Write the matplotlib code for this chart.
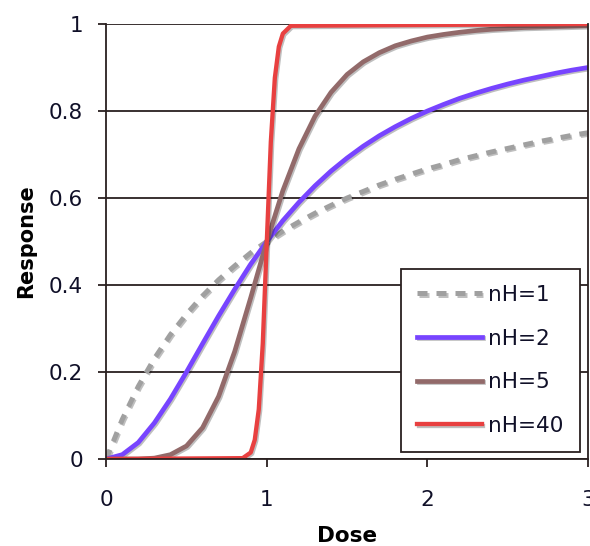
import matplotlib.pyplot as plt
import matplotlib.patheffects as pe

# dose values (0.1 steps) for the three smoother curves
dose = [0.0, 0.1, 0.2, 0.3, 0.4, 0.5, 0.6, 0.7, 0.8, 0.9, 1.0,
        1.1, 1.2, 1.3, 1.4, 1.5, 1.6, 1.7, 1.8, 1.9, 2.0,
        2.1, 2.2, 2.3, 2.4, 2.5, 2.6, 2.7, 2.8, 2.9, 3.0]

resp_n1 = [0.000, 0.091, 0.167, 0.231, 0.286, 0.333, 0.375, 0.412, 0.444, 0.474, 0.500,
           0.524, 0.545, 0.565, 0.583, 0.600, 0.615, 0.630, 0.643, 0.655, 0.667,
           0.677, 0.688, 0.697, 0.706, 0.714, 0.722, 0.730, 0.737, 0.744, 0.750]
resp_n2 = [0.000, 0.010, 0.038, 0.083, 0.138, 0.200, 0.265, 0.329, 0.390, 0.448, 0.500,
           0.548, 0.590, 0.628, 0.662, 0.692, 0.719, 0.743, 0.764, 0.783, 0.800,
           0.815, 0.829, 0.841, 0.852, 0.862, 0.871, 0.879, 0.887, 0.894, 0.900]
resp_n5 = [0.000, 0.000, 0.000, 0.002, 0.010, 0.030, 0.072, 0.144, 0.247, 0.371, 0.500,
           0.617, 0.713, 0.788, 0.843, 0.884, 0.913, 0.934, 0.950, 0.961, 0.970,
           0.976, 0.981, 0.985, 0.988, 0.990, 0.992, 0.993, 0.994, 0.995, 0.996]

# the steep curve needs finer steps around dose = 1
dose_40 = [0.0, 0.85, 0.9, 0.925, 0.95, 0.975, 1.0, 1.025, 1.05, 1.075, 1.1, 1.15, 3.0]
resp_n40 = [0.000, 0.002, 0.015, 0.044, 0.114, 0.266, 0.500, 0.729, 0.876, 0.948, 0.978, 0.996, 1.000]

labels = ['nH=1', 'nH=2', 'nH=5', 'nH=40']
colors = ['#a0a0a0', '#7744ff', '#926a6a', '#e84040']

fig, ax = plt.subplots(figsize=(5.9, 5.46), dpi=100)
fig.subplots_adjust(left=0.18, right=0.9966, bottom=0.1593, top=0.956)

shadow = [pe.SimpleLineShadow(offset=(1, -1), alpha=0.25), pe.Normal()]

ax.plot(dose, resp_n1, color=colors[0], lw=3.6, dashes=(2.0, 1.8),
        label=labels[0], path_effects=shadow)
ax.plot(dose, resp_n2, color=colors[1], lw=3.4, label=labels[1], path_effects=shadow)
ax.plot(dose, resp_n5, color=colors[2], lw=3.4, label=labels[2], path_effects=shadow)
ax.plot(dose_40, resp_n40, color=colors[3], lw=3.1, label=labels[3], path_effects=shadow)

ax.set_xlim(0, 3)
ax.set_ylim(0, 1)
ax.set_xticks([0, 1, 2, 3])
ax.set_yticks([0, 0.2, 0.4, 0.6, 0.8, 1.0])
ax.set_yticklabels(['0', '0.2', '0.4', '0.6', '0.8', '1'])

gridc = '#2a2020'
ax.yaxis.grid(True, color=gridc, lw=1.3)
ax.set_axisbelow(True)
for s in ['left', 'right', 'bottom']:
    ax.spines[s].set_color(gridc)
    ax.spines[s].set_linewidth(1.3)
ax.spines['top'].set_visible(False)
ax.tick_params(direction='out', length=6, width=1.3, color=gridc,
               labelsize=15.5, labelcolor='#101028')
ax.tick_params(axis='y', pad=10.5)
ax.tick_params(axis='x', pad=16)

ax.set_xlabel('Dose', fontsize=15.5, fontweight='bold', labelpad=12)
ax.set_ylabel('Response', fontsize=15, fontweight='bold', labelpad=9)

leg = ax.legend(loc='lower right', bbox_to_anchor=(0.983, 0.016), borderaxespad=0,
                fontsize=15.5, frameon=True, fancybox=False, handlelength=3.0,
                handletextpad=0.3, labelspacing=1.1, borderpad=0.75)
leg.get_frame().set_edgecolor(gridc)
leg.get_frame().set_linewidth(1.3)
leg.get_frame().set_alpha(1)
for t in leg.get_texts():
    t.set_color('#101028')

plt.savefig('out.png')
